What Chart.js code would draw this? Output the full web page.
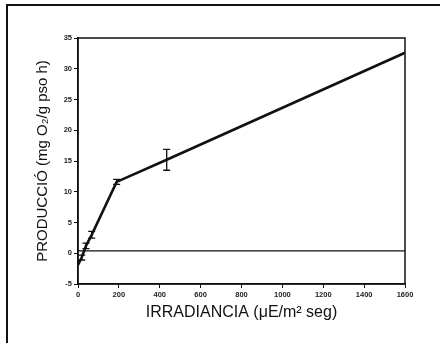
<!DOCTYPE html>
<html>
<head>
<meta charset="utf-8">
<script src="https://cdn.jsdelivr.net/npm/chart.js@4.4.0/dist/chart.umd.min.js"></script>
<style>
	html, body { margin: 0; padding: 0; background: #fff; }
	#wrap { position: relative; width: 440px; height: 343px; }
	#frame { position: absolute; left: 6px; top: 4px; width: 440px; height: 345px; border-top: 2px solid #111; border-left: 2px solid #111; }
	canvas { position: absolute; left: 0; top: 0; }
</style>
</head>
<body>
<div id="wrap">
	<div id="frame"></div>
	<canvas id="mychart" width="440" height="343"></canvas>
</div>
<script>
const irradiance = [0, 18, 39, 67, 189, 434, 1600];
const production = [-1.9, -0.7, 1.2, 3.0, 11.6, 15.2, 32.6];
const errors = [0, 0.4, 0.45, 0.55, 0.4, 1.7, 0];
const baseLineX = [0, 1600];
const baseLineY = [0.4, 0.4];
const xTicks = [0, 200, 400, 600, 800, 1000, 1200, 1400, 1600];
const yTicks = [-5, 0, 5, 10, 15, 20, 25, 30, 35];

const points = irradiance.map((x, i) => ({ x: x, y: production[i] }));
const base = baseLineX.map((x, i) => ({ x: x, y: baseLineY[i] }));

const errorBars = {
	id: "errorBars",
	afterDatasetsDraw(chart) {
		const ctx = chart.ctx;
		const xs = chart.scales.x, ys = chart.scales.y;
		ctx.save();
		ctx.strokeStyle = "#111";
		ctx.lineWidth = 1.3;
		for (let i = 0; i < irradiance.length; i++) {
			if (!errors[i]) continue;
			const px = xs.getPixelForValue(irradiance[i]);
			const top = ys.getPixelForValue(production[i] + errors[i]);
			const bot = ys.getPixelForValue(production[i] - errors[i]);
			ctx.beginPath();
			ctx.moveTo(px, top); ctx.lineTo(px, bot);
			ctx.moveTo(px - 3.5, top); ctx.lineTo(px + 3.5, top);
			ctx.moveTo(px - 3.5, bot); ctx.lineTo(px + 3.5, bot);
			ctx.stroke();
		}
		ctx.restore();
	}
};

const frameBox = {
	id: "frameBox",
	afterDraw(chart) {
		const a = chart.chartArea, ctx = chart.ctx;
		ctx.save();
		ctx.strokeStyle = "#111";
		ctx.lineWidth = 1.5;
		ctx.strokeRect(a.left, a.top, a.right - a.left, a.bottom - a.top);
		ctx.restore();
	}
};

new Chart("mychart", {
	type: "scatter",
	data: {
		datasets: [{
				data: base,
				showLine: true,
				borderColor: "#111",
				borderWidth: 1.2,
				pointRadius: 0
			},
			{
				data: points,
				showLine: true,
				borderColor: "#111",
				borderWidth: 2.6,
				pointRadius: 0
			}
		]
	},
	options: {
		responsive: false,
		animation: false,
		layout: { padding: { top: 38, right: 35, left: 0, bottom: 0 } },
		plugins: { legend: { display: false }, tooltip: { enabled: false } },
		scales: {
			x: {
				type: "linear",
				min: 0,
				max: 1600,
				afterBuildTicks: s => { s.ticks = xTicks.map(v => ({ value: v })); },
				afterFit: s => { s.height = 59; },
				grid: { drawOnChartArea: false, tickLength: 4, color: "#111" },
				border: { color: "#111", width: 1.5 },
				ticks: { color: "#222", font: { family: "Arial", size: 7.5, weight: "bold" }, padding: 2, maxRotation: 0, callback: v => String(v) },
				title: {
					display: true,
					text: "IRRADIANCIA (μE/m² seg)",
					color: "#111",
					font: { family: "Liberation Sans", size: 16 },
					padding: { top: 0, bottom: 21 }
				}
			},
			y: {
				min: -5,
				max: 35,
				afterBuildTicks: s => { s.ticks = yTicks.map(v => ({ value: v })); },
				afterFit: s => { s.width = 78; },
				grid: { drawOnChartArea: false, tickLength: 4, color: "#111" },
				border: { color: "#111", width: 1.5 },
				ticks: { color: "#222", font: { family: "Arial", size: 7.5, weight: "bold" }, padding: 2, callback: v => String(v) },
				title: {
					display: true,
					text: "PRODUCCIÓ (mg O₂/g pso h)",
					color: "#111",
					font: { family: "Liberation Sans", size: 15 },
					padding: { top: 34, bottom: 0 }
				}
			}
		}
	},
	plugins: [errorBars, frameBox]
});
</script>
</body>
</html>
